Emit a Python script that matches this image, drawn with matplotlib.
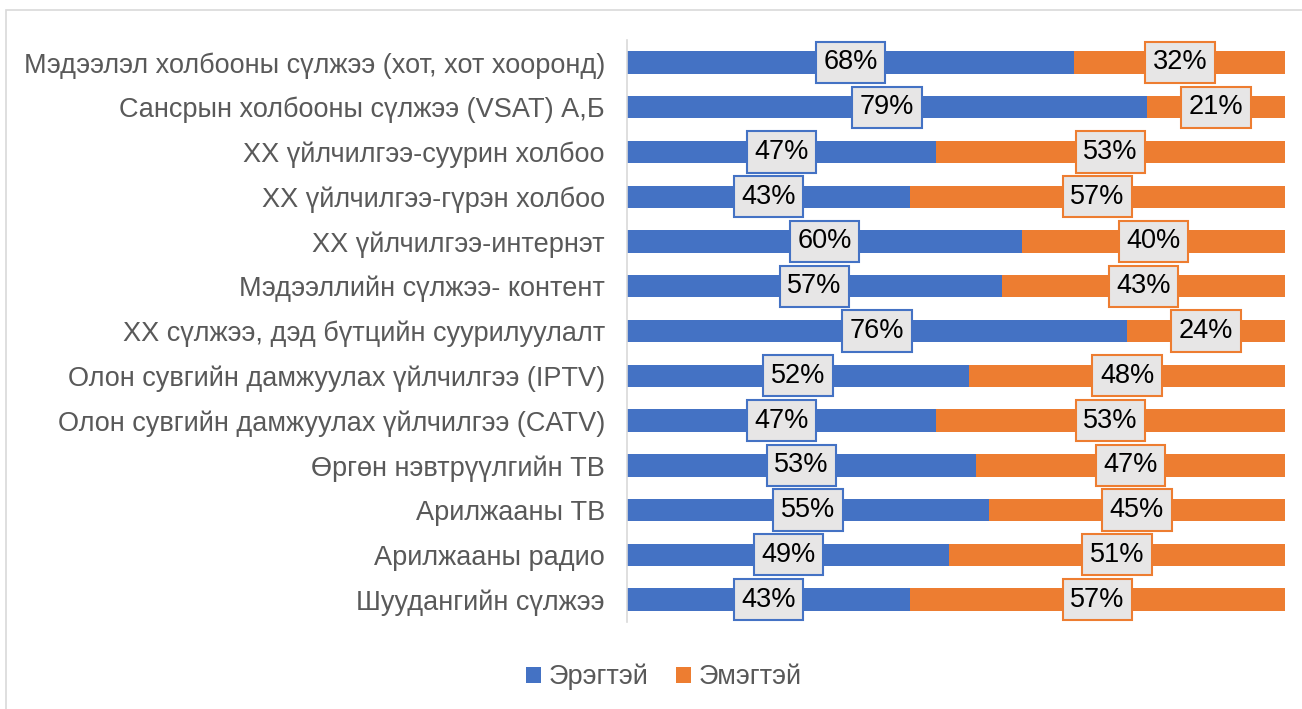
import matplotlib.pyplot as plt
import numpy as np
from matplotlib.patches import Rectangle

plt.rcParams['font.family'] = ['Liberation Sans', 'DejaVu Sans']

categories = [
    "Мэдээлэл холбооны сүлжээ (хот, хот хооронд)",
    "Сансрын холбооны сүлжээ (VSAT) А,Б",
    "ХХ үйлчилгээ-суурин холбоо",
    "ХХ үйлчилгээ-гүрэн холбоо",
    "ХХ үйлчилгээ-интернэт",
    "Мэдээллийн сүлжээ- контент",
    "ХХ сүлжээ, дэд бүтцийн суурилуулалт",
    "Олон сувгийн дамжуулах үйлчилгээ (IPTV)",
    "Олон сувгийн дамжуулах үйлчилгээ (CATV)",
    "Өргөн нэвтрүүлгийн ТВ",
    "Арилжааны ТВ",
    "Арилжааны радио",
    "Шуудангийн сүлжээ",
]
male = [68, 79, 47, 43, 60, 57, 76, 52, 47, 53, 55, 49, 43]
female = [32, 21, 53, 57, 40, 43, 24, 48, 53, 47, 45, 51, 57]

blue = "#4472C4"
orange = "#ED7D31"

fig = plt.figure(figsize=(13.02, 7.09), dpi=100)
ax = fig.add_axes([627 / 1302, 1 - 622 / 709, (1285 - 627) / 1302, (622 - 40) / 709])

y = np.arange(len(categories))
ax.barh(y, male, height=0.5, color=blue, label="Эрэгтэй")
ax.barh(y, female, left=male, height=0.5, color=orange, label="Эмэгтэй")

for i in range(len(categories)):
    for start, val, col in ((0, male[i], blue), (male[i], female[i], orange)):
        ax.text(start + val / 2, i, f"{val}%", ha="center", va="center",
                fontsize=19.5, color="black",
                bbox=dict(boxstyle="square,pad=0.28", fc="#E7E6E6", ec=col, lw=1.5))

ax.set_xlim(0, 100)
ax.set_ylim(len(categories) - 0.5, -0.5)
ax.set_yticks(y)
ax.set_yticklabels(categories, fontsize=19.5, color="#595959")
ax.tick_params(axis="y", length=0, pad=16)
ax.set_xticks([])
for s in ("top", "right", "bottom"):
    ax.spines[s].set_visible(False)
ax.spines["left"].set_color("#D9D9D9")
ax.spines["left"].set_linewidth(1.2)

leg = fig.legend(loc="center", bbox_to_anchor=(664 / 1302, 1 - 677 / 709), ncol=2,
                 frameon=False, fontsize=19.5, handlelength=0.55, handleheight=0.55,
                 handletextpad=0.3, columnspacing=1.0)
for t in leg.get_texts():
    t.set_color("#595959")

# outer chart frame
fig.add_artist(Rectangle((6 / 1302, -0.01), 1.02, 1 - 10 / 709 + 0.01,
                         transform=fig.transFigure, fill=False,
                         ec="#D9D9D9", lw=1.2))

fig.savefig("out.png", dpi=100)
